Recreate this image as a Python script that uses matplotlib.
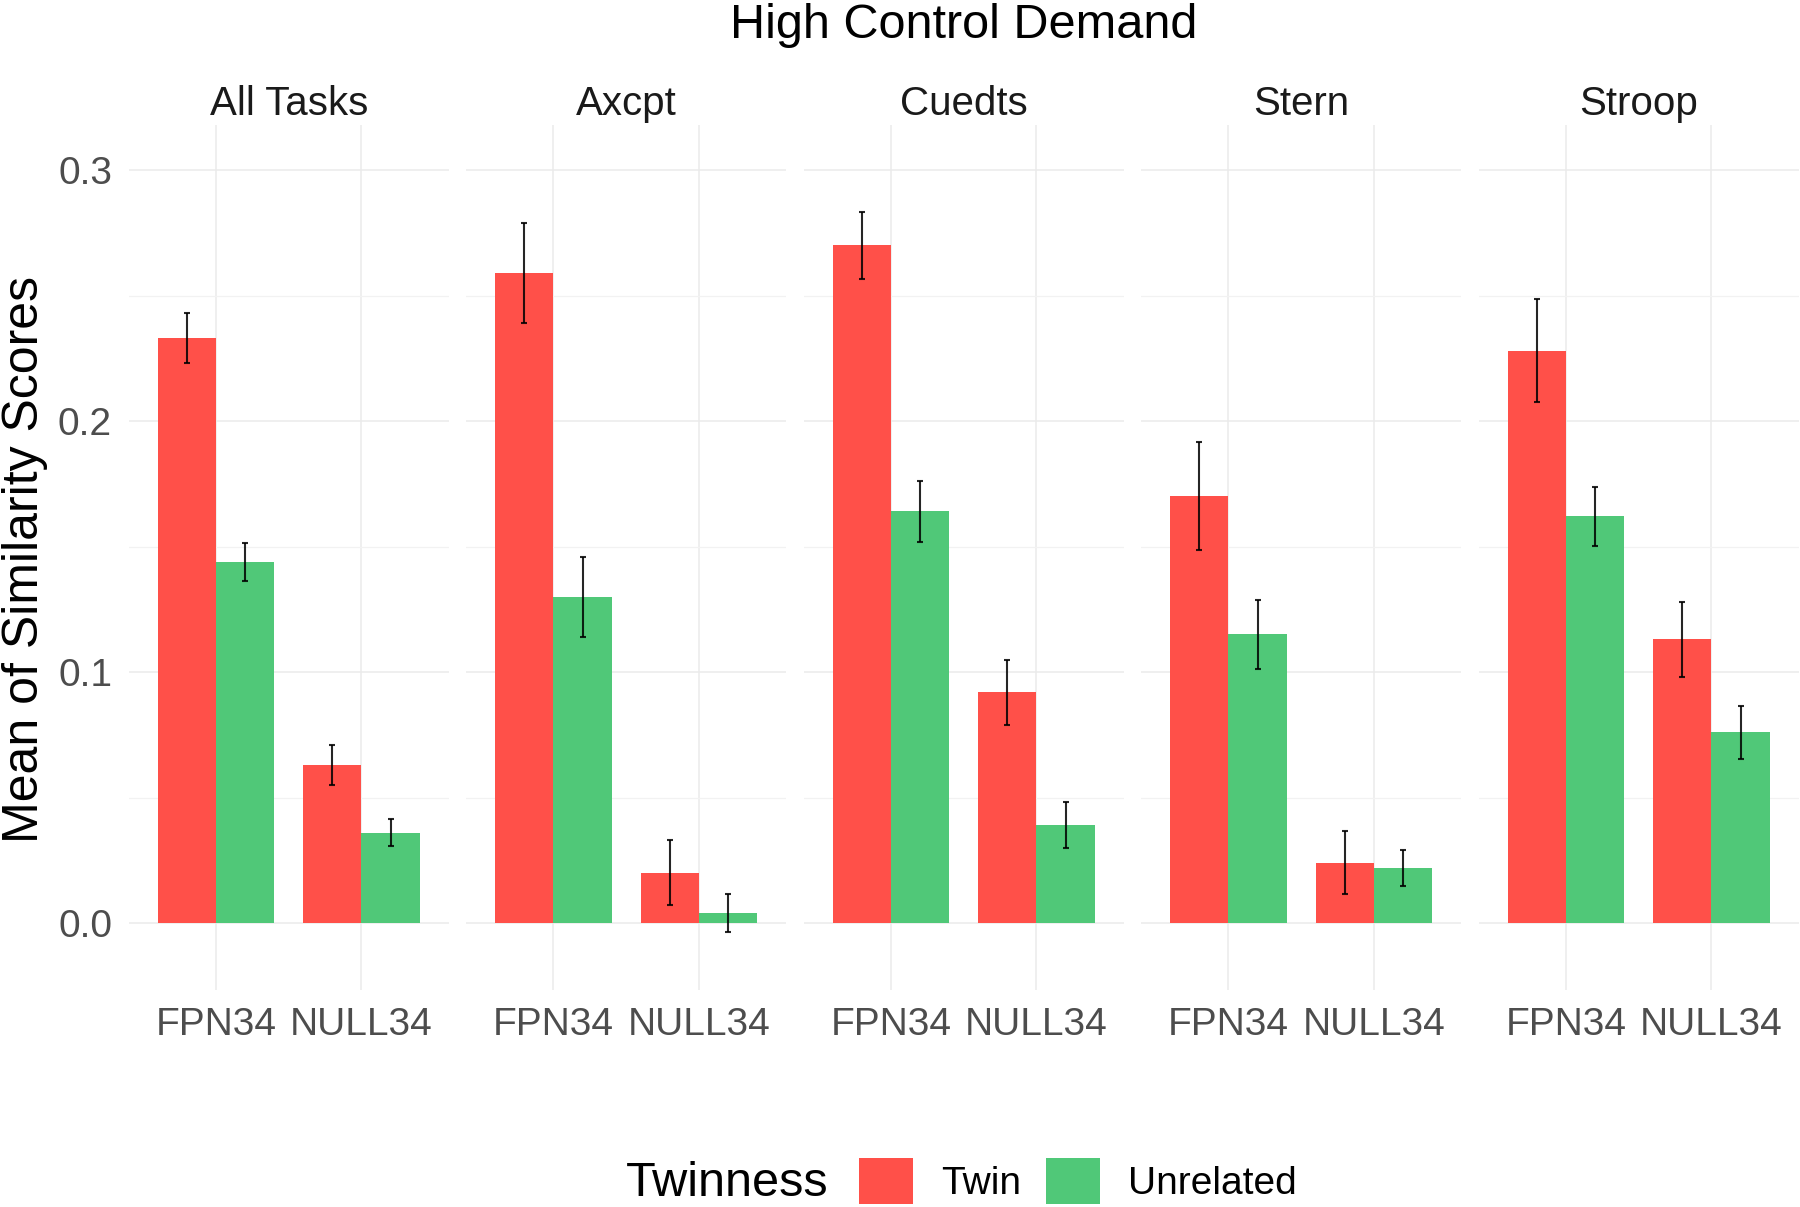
import matplotlib
matplotlib.use("Agg")
import matplotlib.pyplot as plt
import numpy as np
from matplotlib.patches import Patch

plt.rcParams['font.family'] = ['Liberation Sans', 'DejaVu Sans']

# values
tasks = ['All Tasks', 'Axcpt', 'Cuedts', 'Stern', 'Stroop']
networks = ['FPN34', 'NULL34']
twin_mean = [[0.233, 0.063], [0.259, 0.020], [0.270, 0.092], [0.170, 0.024], [0.228, 0.113]]
twin_se = [[0.010, 0.008], [0.020, 0.013], [0.0135, 0.013], [0.0215, 0.0125], [0.0205, 0.015]]
unrel_mean = [[0.144, 0.036], [0.130, 0.004], [0.164, 0.039], [0.115, 0.022], [0.162, 0.076]]
unrel_se = [[0.0076, 0.0053], [0.016, 0.0077], [0.012, 0.0092], [0.0137, 0.0071], [0.0119, 0.0105]]

groups = ['Twin', 'Unrelated']
colors = ['#FF5049', '#50C878']

W, H = 1800, 1207
fig = plt.figure(figsize=(W / 100, H / 100), dpi=100)

panel_left = 128.7
panel_step = 337.5
panel_w = 320.0
panel_top = 125
panel_bot = 990

x = np.arange(1, len(networks) + 1)
bw = 0.4

for i, task in enumerate(tasks):
    ax = fig.add_axes([(panel_left + i * panel_step) / W, 1 - panel_bot / H,
                       panel_w / W, (panel_bot - panel_top) / H])
    means = [twin_mean[i], unrel_mean[i]]
    ses = [twin_se[i], unrel_se[i]]
    for g in range(2):
        xs = x - bw / 2 + g * bw
        ax.bar(xs, means[g], width=bw, color=colors[g], zorder=2)
        ax.errorbar(xs, means[g], yerr=ses[g], fmt='none', ecolor='black',
                    elinewidth=1.5, capsize=2, capthick=1.5, alpha=0.85, zorder=3)

    ax.set_xlim(0.4, 2.6)
    ax.set_ylim(-0.0267, 0.318)
    ax.set_xticks(x)
    ax.set_xticklabels(networks)
    ax.set_yticks([0.0, 0.1, 0.2, 0.3])
    ax.set_yticks([0.05, 0.15, 0.25], minor=True)
    ax.set_yticklabels(['0.0', '0.1', '0.2', '0.3'])
    ax.grid(True, which='major', color='#EBEBEB', linewidth=1.1, zorder=0)
    ax.grid(True, which='minor', axis='y', color='#F2F2F2', linewidth=0.9, zorder=0)
    ax.set_axisbelow(True)
    for s in ax.spines.values():
        s.set_visible(False)
    ax.tick_params(axis='both', which='both', length=0, labelsize=28,
                   labelcolor='#4D4D4D', pad=12)
    if i > 0:
        ax.tick_params(axis='y', labelleft=False)
    ax.set_title(task, fontsize=29, color='#1A1A1A', pad=7)

fig.text(964 / W, 1 - 38 / H, 'High Control Demand', fontsize=35,
         ha='center', va='baseline', color='black')
fig.text(2 / W, 1 - 560 / H, 'Mean of Similarity Scores', fontsize=36,
         rotation=90, ha='left', va='center', color='black')

fig.text(626 / W, 1 - 1184 / H, 'Twinness', fontsize=35, ha='left',
         va='center', color='black')
handles = [Patch(facecolor=c, edgecolor='none') for c in colors]
fig.legend(handles, groups, loc='center left',
           bbox_to_anchor=(859 / W, 1 - 1181 / H), ncol=2, frameon=False,
           fontsize=28, handlelength=1.39, handleheight=1.45,
           handletextpad=0.72, columnspacing=0.65, borderpad=0, borderaxespad=0)

fig.savefig('out.png', dpi=100)
